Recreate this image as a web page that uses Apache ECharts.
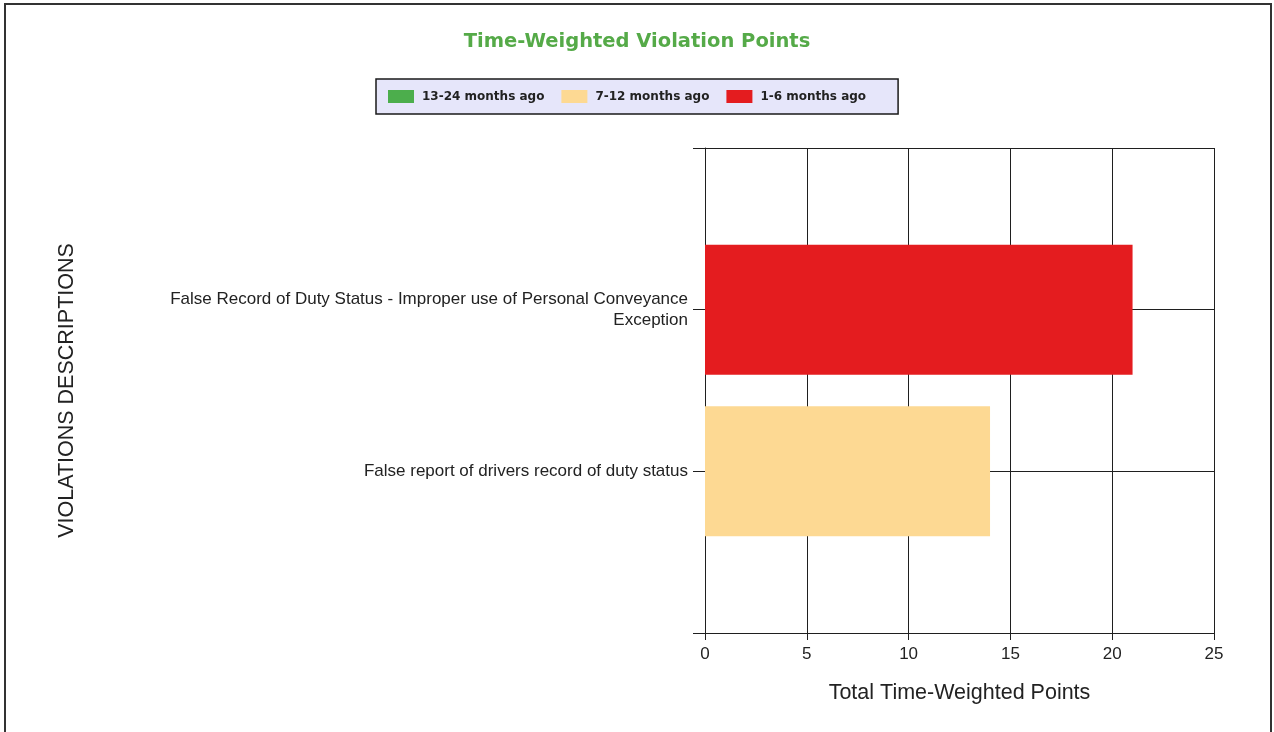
<!DOCTYPE html>
<html>
<head>
<meta charset="utf-8">
<script src="https://cdn.jsdelivr.net/npm/echarts@6/dist/echarts.min.js"></script>
<style>
  html, body { margin: 0; padding: 0; background: #fff; }
  #main { width: 1274px; height: 732px; }
</style>
</head>
<body>
<div id="main"></div>
<script>
// violation descriptions, bottom to top (empty slots pad the axis ends)
var categories = [
  '',
  'False report of drivers record of duty status',
  'False Record of Duty Status - Improper use of Personal Conveyance\nException',
  ''
];
var months13to24 = ['-', '-', '-', '-'];
var months7to12 = ['-', 14, '-', '-'];
var months1to6 = ['-', '-', 21, '-'];
var xTicks = { min: 0, max: 25, interval: 5 };

var chart = echarts.init(document.getElementById('main'), null, { renderer: 'canvas' });

var lineColor = '#1f1f1f';

var option = {
  animation: false,
  backgroundColor: '#fff',
  title: {
    text: 'Time-Weighted Violation Points',
    left: 'center',
    top: 27,
    textStyle: {
      color: '#55aa48',
      fontFamily: 'DejaVu Sans',
      fontWeight: 'bold',
      fontSize: 19.5
    }
  },
  legend: {
    left: 376,
    top: 79,
    backgroundColor: '#e6e6fa',
    borderColor: '#1a1a1a',
    borderWidth: 1.5,
    borderRadius: 0,
    padding: [11, 32, 11, 12],
    itemWidth: 26,
    itemHeight: 13,
    itemGap: 17,
    icon: 'rect',
    textStyle: {
      color: '#222',
      fontFamily: 'DejaVu Sans',
      fontSize: 12,
      fontWeight: 'bold',
      padding: [0, 0, 0, 3]
    },
    data: ['13-24 months ago', '7-12 months ago', '1-6 months ago']
  },
  grid: {
    left: 705,
    right: 60,
    top: 148,
    bottom: 99,
    containLabel: false
  },
  xAxis: {
    type: 'value',
    min: xTicks.min,
    max: xTicks.max,
    interval: xTicks.interval,
    name: 'Total Time-Weighted Points',
    nameLocation: 'middle',
    nameGap: 49,
    nameTextStyle: {
      color: '#222',
      fontFamily: 'Liberation Sans',
      fontSize: 21.5
    },
    axisLine: { show: true, lineStyle: { color: lineColor, width: 1 } },
    axisTick: { show: true, length: 7, lineStyle: { color: lineColor } },
    axisLabel: {
      color: '#222',
      fontFamily: 'Liberation Sans',
      fontSize: 17,
      margin: 13
    },
    splitLine: { show: true, lineStyle: { color: lineColor, width: 1 } }
  },
  yAxis: {
    type: 'category',
    data: categories,
    boundaryGap: false,
    name: 'VIOLATIONS DESCRIPTIONS',
    nameLocation: 'middle',
    nameRotate: 90,
    nameGap: 627,
    nameTextStyle: {
      color: '#222',
      fontFamily: 'Liberation Sans',
      fontSize: 21.5
    },
    axisLine: { show: true, lineStyle: { color: lineColor, width: 1 } },
    axisTick: { show: true, length: 12, lineStyle: { color: lineColor } },
    axisLabel: {
      color: '#222',
      fontFamily: 'Liberation Sans',
      fontSize: 17,
      margin: 17,
      lineHeight: 21,
      align: 'right'
    },
    splitLine: { show: true, lineStyle: { color: lineColor, width: 1 } }
  },
  series: [
    {
      name: '13-24 months ago',
      type: 'bar',
      stack: 'total',
      barWidth: 130,
      itemStyle: { color: '#4cae4c' },
      data: months13to24
    },
    {
      name: '7-12 months ago',
      type: 'bar',
      stack: 'total',
      barWidth: 130,
      itemStyle: { color: '#fdd993' },
      data: months7to12
    },
    {
      name: '1-6 months ago',
      type: 'bar',
      stack: 'total',
      barWidth: 130,
      itemStyle: { color: '#e41c1f' },
      data: months1to6
    }
  ],
  graphic: [
    {
      type: 'rect',
      shape: { x: 5, y: 4, width: 1266, height: 800 },
      style: { fill: 'none', stroke: '#333', lineWidth: 2 },
      silent: true
    }
  ]
};

chart.setOption(option);
</script>
</body>
</html>
